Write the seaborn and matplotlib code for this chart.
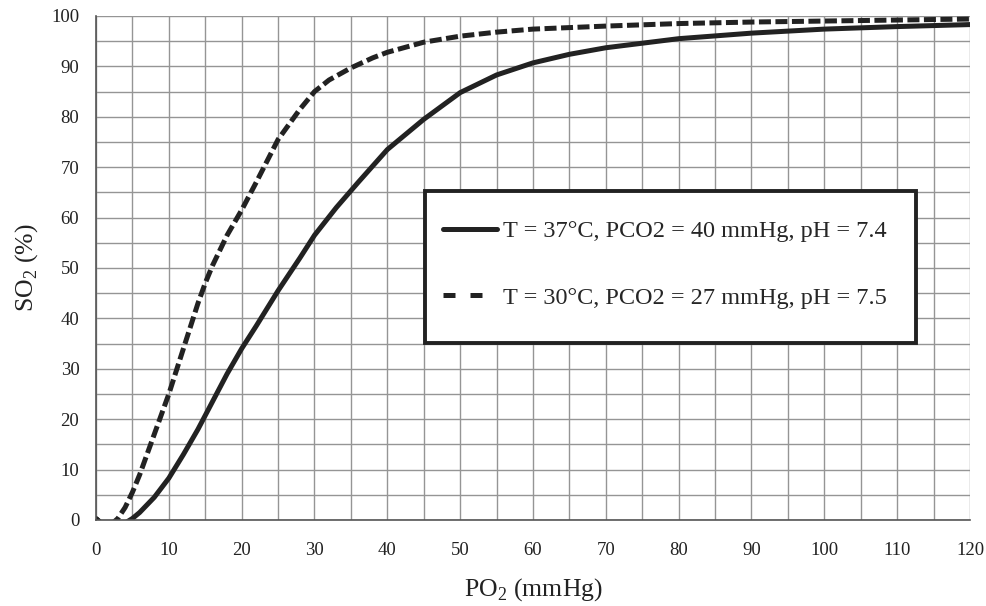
import matplotlib
matplotlib.use("Agg")
import matplotlib.pyplot as plt
import seaborn as sns
import pandas as pd
import numpy as np
from matplotlib.lines import Line2D
from matplotlib.patches import Rectangle

# PO2 values (mmHg) and SO2 (%)
po2_37 = [0, 1, 2, 3, 4, 5, 6, 8, 10, 12, 14, 16, 18, 20, 22, 25, 28, 30, 33, 36, 40, 45,
          50, 55, 60, 65, 70, 80, 90, 100, 110, 120]
so2_37 = [0.3, -1.0, -1.5, -1.2, -0.6, 0.3, 1.5, 4.5, 8.3, 13.0, 18.0, 23.5, 29.0, 34.0, 38.5,
          45.5, 52.0, 56.5, 62.0, 67.0, 73.5, 79.5, 84.8, 88.3, 90.7, 92.4, 93.7, 95.5,
          96.6, 97.4, 97.9, 98.3]

po2_30 = [0, 1, 2, 3, 4, 5, 6, 7, 8, 9, 10, 11, 12, 13, 14, 15, 16, 18, 20, 22, 25, 28, 30,
          32, 35, 38, 40, 45, 50, 55, 60, 70, 80, 90, 100, 110, 120]
so2_30 = [0.3, -1.0, -1.0, 0.3, 2.5, 5.5, 9.0, 13.0, 17.0, 21.0, 25.0, 29.5, 34.0, 38.5,
          43.0, 47.0, 50.5, 56.5, 61.5, 67.0, 75.5, 81.5, 85.0, 87.3, 89.7, 91.7, 92.8, 94.8,
          96.0, 96.8, 97.4, 98.0, 98.5, 98.8, 99.0, 99.2, 99.4]

label_37 = "T = 37°C, PCO2 = 40 mmHg, pH = 7.4"
label_30 = "T = 30°C, PCO2 = 27 mmHg, pH = 7.5"

x_ticks = list(range(0, 121, 10))
y_ticks = list(range(0, 101, 10))

df = pd.concat([
    pd.DataFrame({"PO2": po2_37, "SO2": so2_37, "cond": label_37}),
    pd.DataFrame({"PO2": po2_30, "SO2": so2_30, "cond": label_30}),
])

sns.set_style("white")
plt.rcParams["font.family"] = ["Liberation Serif", "DejaVu Serif"]
plt.rcParams["mathtext.fontset"] = "custom"
plt.rcParams["mathtext.rm"] = "Liberation Serif"

INK = "#222222"
DASH = (2.4, 0.9)
LEG_DASH = (2.4, 3.0)
LW = 3.6

fig = plt.figure(figsize=(9.87, 6.06), dpi=100)
ax = fig.add_axes([96 / 987, 1 - 520 / 606, (970 - 96) / 987, (520 - 16) / 606])

sns.lineplot(data=df, x="PO2", y="SO2", hue="cond", style="cond",
             hue_order=[label_37, label_30], style_order=[label_37, label_30],
             palette=[INK, INK], dashes=[(None, None), DASH], linewidth=LW, ax=ax,
             legend=False, sort=False, estimator=None)

ax.set_xlim(0, 120)
ax.set_ylim(0, 100)
ax.set_xticks(x_ticks)
ax.set_yticks(y_ticks)
ax.set_xticks(np.arange(0, 121, 5), minor=True)
ax.set_yticks(np.arange(0, 101, 5), minor=True)
ax.grid(True, which="both", color="#959595", linewidth=1.0)
ax.set_axisbelow(True)
ax.tick_params(axis="both", which="major", direction="out", length=7, width=1,
               color="#666666", labelsize=13.5, colors=INK)
ax.tick_params(axis="x", which="major", pad=9)
ax.tick_params(axis="y", which="major", pad=5)
ax.tick_params(axis="both", which="minor", length=0)
for s in ["top", "right"]:
    ax.spines[s].set_visible(False)
for s in ["left", "bottom"]:
    ax.spines[s].set_color("#555555")
    ax.spines[s].set_linewidth(1.2)

ax.set_xlabel(r"PO$_\mathregular{2}$ (mmHg)", fontsize=18.5, color=INK, labelpad=12)
ax.set_ylabel(r"SO$_\mathregular{2}$ (%)", fontsize=18.5, color=INK, labelpad=8)

# legend frame
ax.add_patch(Rectangle(((425 - 96) / 874, (520 - 343) / 504),
                       (916 - 425) / 874, (343 - 191) / 504,
                       transform=ax.transAxes, facecolor="white", edgecolor=INK,
                       linewidth=2.8, zorder=5))

handles = [Line2D([], [], color=INK, lw=LW),
           Line2D([], [], color=INK, lw=LW, dashes=LEG_DASH)]
leg = ax.legend(handles, [label_37, label_30], loc="center left",
                bbox_to_anchor=((443 - 96) / 874, (520 - 264.5) / 504),
                fontsize=17.5, frameon=False,
                labelspacing=1.85, borderpad=0, handlelength=2.22, handletextpad=0.25,
                borderaxespad=0)
leg.set_zorder(6)

fig.savefig("out.png", dpi=100)
